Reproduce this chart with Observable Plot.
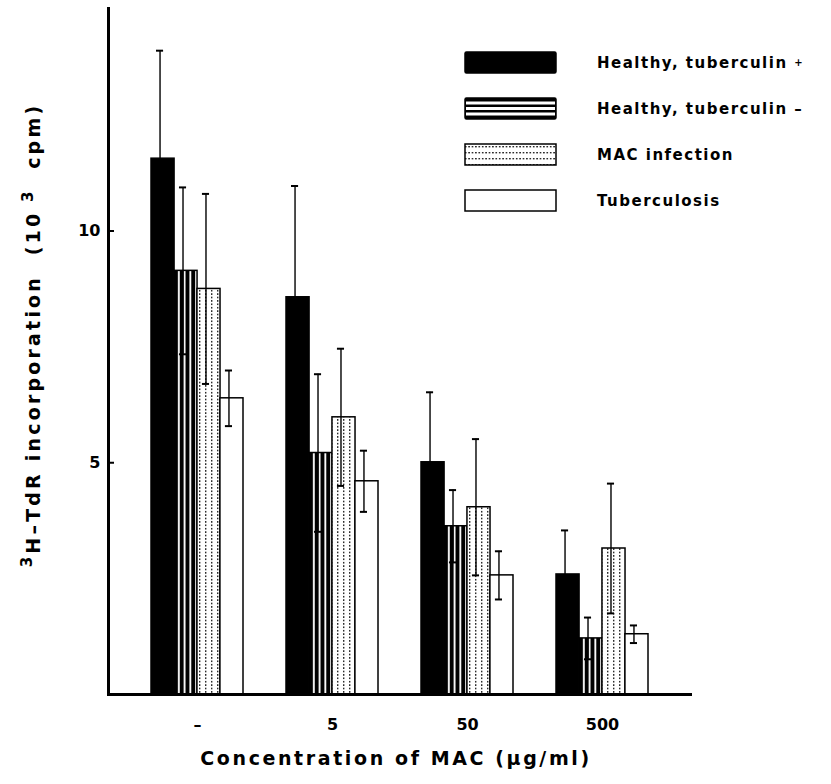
<!DOCTYPE html>
<html><head><meta charset="utf-8">
<script src="https://cdn.jsdelivr.net/npm/d3@7"></script>
<script src="https://cdn.jsdelivr.net/npm/@observablehq/plot@0.6"></script>
<style>
body{margin:0;background:#fff;}
#wrap{position:relative;width:831px;height:784px;background:#fff;}
.legend{position:absolute;left:464px;top:51px;font-family:"DejaVu Sans",sans-serif;font-weight:bold;font-size:15px;letter-spacing:1.5px;color:#000;}
.row{display:flex;align-items:center;height:23px;margin-bottom:23px;white-space:nowrap;}
.row svg{margin-right:40px;flex:none;}
.small{font-size:10px;vertical-align:2px;}
</style></head><body><div id="wrap"></div>
<script>
// ---- data ----
const groups = ["–", "5", "50", "500"];
const series = ["Healthy, tuberculin +", "Healthy, tuberculin –", "MAC infection", "Tuberculosis"];
const meanPos = [11.56, 8.57, 5.01, 2.59];
const sdPos   = [2.33, 2.40, 1.51, 0.95];
const meanNeg = [9.14, 5.21, 3.63, 1.21];
const sdNeg   = [1.80, 1.70, 0.78, 0.45];
const meanMAC = [8.75, 5.98, 4.04, 3.15];
const sdMAC   = [2.05, 1.48, 1.47, 1.40];
const meanTB  = [6.39, 4.60, 2.57, 1.30];
const sdTB    = [0.60, 0.66, 0.52, 0.19];
const yTicks = [5, 10];
const xTitle = "Concentration of MAC (μg/ml)";

const means = [meanPos, meanNeg, meanMAC, meanTB];
const sds = [sdPos, sdNeg, sdMAC, sdTB];
const data = groups.flatMap((g, i) => series.map((s, k) => ({group: g, series: s, k, mean: means[k][i], sd: sds[k][i]})));

const fills = ["black", "url(#stripeV)", "url(#dotsV)", "white"];
const bw = 91.9, bar = bw / 4;

const marks = [];
for (let k = 0; k < 4; k++) {
  const dk = data.filter(d => d.k === k);
  marks.push(Plot.barY(dk, {x: "group", y: "mean", fill: fills[k], stroke: "black", strokeWidth: 1.5,
    insetLeft: k * bar, insetRight: (3 - k) * bar}));
}
for (let k = 0; k < 4; k++) {
  const dk = data.filter(d => d.k === k);
  const c = -bw / 2 + bar * k + bar / 2 - 3;
  const left = bar * k + bar / 2 - 3 - 3.5;
  const right = bw - left - 7;
  marks.push(Plot.ruleX(dk, {x: "group", y1: d => d.mean - d.sd, y2: d => d.mean + d.sd, dx: c, stroke: "black", strokeWidth: 1.4}));
  marks.push(Plot.tickY(dk, {x: "group", y: d => d.mean + d.sd, insetLeft: left, insetRight: right, stroke: "black", strokeWidth: 2}));
  marks.push(Plot.tickY(dk, {x: "group", y: d => d.mean - d.sd, insetLeft: left, insetRight: right, stroke: "black", strokeWidth: 2}));
}

const svg = Plot.plot({
  width: 831, height: 784,
  marginLeft: 108, marginRight: 141, marginTop: 8, marginBottom: 90,
  style: {fontFamily: "'DejaVu Sans', sans-serif", fontWeight: "bold", fontSize: "16px", color: "black", background: "white", overflow: "visible"},
  x: {domain: groups, paddingInner: 0.32, paddingOuter: 0.314, axis: null},
  y: {domain: [0, 14.8], axis: null},
  marks: [
    ...marks,
    Plot.axisX({tickSize: 0, tickPadding: 24, label: null, fontSize: 16}),
    Plot.axisY({ticks: yTicks, tickSize: 0, tickPadding: 8, label: null, fontSize: 16}),
    Plot.tickY(yTicks, {y: d => d, insetRight: 576, stroke: "black", strokeWidth: 2}),
    Plot.frame({anchor: "left", stroke: "black", strokeWidth: 3}),
    Plot.frame({anchor: "bottom", stroke: "black", strokeWidth: 3})
  ]
});

// patterns
const defs = d3.select(svg).insert("defs", ":first-child");
const p1 = defs.append("pattern").attr("id", "stripeV").attr("patternUnits", "objectBoundingBox")
  .attr("patternContentUnits", "objectBoundingBox").attr("width", 0.25).attr("height", 1);
p1.append("rect").attr("x", 0).attr("y", 0).attr("width", 0.25).attr("height", 1).attr("fill", "white");
p1.append("rect").attr("x", 0).attr("y", 0).attr("width", 0.17).attr("height", 1).attr("fill", "black");
const p2 = defs.append("pattern").attr("id", "dotsV").attr("patternUnits", "userSpaceOnUse")
  .attr("width", 6).attr("height", 3.4);
p2.append("rect").attr("width", 6).attr("height", 3.4).attr("fill", "white");
p2.append("rect").attr("x", 1).attr("y", 1).attr("width", 1.4).attr("height", 1.4).attr("fill", "black");

// axis titles
const s = d3.select(svg);
s.append("text").attr("x", 396).attr("y", 765).attr("text-anchor", "middle")
  .attr("font-size", 19).attr("letter-spacing", "2.6px").attr("fill", "black").text(xTitle);
const yt = s.append("text").attr("transform", "translate(40,335) rotate(-90)").attr("text-anchor", "middle")
  .attr("font-size", 19).attr("letter-spacing", "3.2px").attr("fill", "black");
yt.append("tspan").attr("font-size", 15).attr("dy", -8).text("3");
yt.append("tspan").attr("dy", 8).text("H–TdR incorporation  (10");
yt.append("tspan").attr("font-size", 15).attr("dy", -7).text(" 3");
yt.append("tspan").attr("dy", 7).text("  cpm)");

const wrap = document.getElementById("wrap");
wrap.appendChild(svg);

// legend
const sw = [
  `<rect x="1" y="1" width="91" height="21" rx="1.5" fill="black" stroke="black" stroke-width="1.5"/>`,
  `<rect x="1" y="1" width="91" height="21" rx="1.5" fill="black" stroke="black" stroke-width="1.5"/>` +
    `<rect x="2" y="4.5" width="89" height="3" fill="white"/><rect x="2" y="10" width="89" height="3" fill="white"/><rect x="2" y="15.5" width="89" height="3" fill="white"/>`,
  `<defs><pattern id="dotsH" patternUnits="userSpaceOnUse" width="3.4" height="6" x="0" y="2"><rect width="3.4" height="6" fill="white"/><rect x="1" y="1" width="1.4" height="1.4" fill="black"/></pattern></defs>` +
    `<rect x="1" y="1" width="91" height="21" fill="url(#dotsH)" stroke="black" stroke-width="1.5"/>`,
  `<rect x="1" y="1" width="91" height="21" fill="white" stroke="black" stroke-width="1.5"/>`
];
const labels = ["Healthy, tuberculin <span class='small'>+</span>", "Healthy, tuberculin –", "MAC infection", "Tuberculosis"];
const leg = document.createElement("div");
leg.className = "legend";
leg.innerHTML = series.map((sname, k) =>
  `<div class="row"><svg width="93" height="23">${sw[k]}</svg><span>${labels[k]}</span></div>`).join("");
wrap.appendChild(leg);
</script></body></html>
